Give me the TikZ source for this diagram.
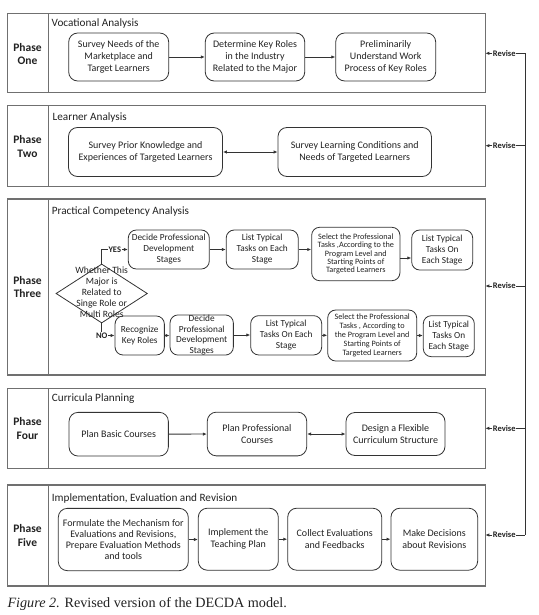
\documentclass[tikz,border=0pt]{standalone}
\usepackage{fontspec}
\setmainfont{Carlito}
\newfontfamily\capfont{Liberation Serif}
\usetikzlibrary{shapes.geometric,arrows.meta}
\definecolor{framegray}{HTML}{707070}
\definecolor{linecol}{HTML}{333333}
\definecolor{txtcol}{HTML}{222222}
\begin{document}
\begin{tikzpicture}[x=1pt,y=-1pt,
  phasebox/.style={draw=framegray, line width=1.1pt, rectangle, inner sep=0pt, outer sep=0pt},
  sepline/.style={draw=framegray, line width=1.1pt},
  stepbox/.style={draw=linecol, line width=0.8pt, rounded corners=9pt, align=center, inner sep=1pt, text=txtcol, font=\fontsize{10}{12}\selectfont},
  midbox/.style={stepbox, rounded corners=8pt, font=\fontsize{9.3}{11}\selectfont},
  tinybox/.style={stepbox, rounded corners=8pt, font=\fontsize{8.2}{8.3}\selectfont},
  titletext/.style={anchor=west, inner sep=0pt, text=txtcol, font=\fontsize{11.2}{13}\selectfont},
  phaselabel/.style={align=center, inner sep=0pt, text=txtcol, font=\bfseries\fontsize{11.5}{13.5}\selectfont},
  revlabel/.style={inner sep=0.6pt, text=txtcol, font=\bfseries\fontsize{8.5}{10}\selectfont},
  choice/.style={fill=white, inner sep=0.8pt, text=txtcol, font=\bfseries\fontsize{8.5}{10}\selectfont},
  arr/.style={draw=linecol, line width=0.8pt, -{Latex[length=4pt,width=3.4pt]}},
  darr/.style={draw=linecol, line width=0.8pt, {Latex[length=4pt,width=3.4pt]}-{Latex[length=4pt,width=3.4pt]}},
  plainline/.style={draw=linecol, line width=0.8pt}
]
\useasboundingbox (0,0) rectangle (538,615);

% ---------- phase frames ----------
\node[phasebox, minimum width=478pt, minimum height=79pt] (ph1) at (246.3,52.8) {};
\node[phasebox, minimum width=478pt, minimum height=80.7pt] (ph2) at (246.3,146.3) {};
\node[phasebox, minimum width=478pt, minimum height=176pt] (ph3) at (246.3,287) {};
\node[phasebox, minimum width=478pt, minimum height=80pt] (ph4) at (246.3,428.3) {};
\node[phasebox, minimum width=478pt, minimum height=101pt] (ph5) at (246.3,535.5) {};
\foreach \p in {ph1,ph2,ph3,ph4,ph5}
  \draw[sepline] ([xshift=41pt]\p.north west) -- ([xshift=41pt]\p.south west);

% ---------- phase labels and titles ----------
\node[phaselabel] (l1) at (27.5,53.8) {Phase\\One};
\node[phaselabel] (l2) at (27.5,146.7) {Phase\\Two};
\node[phaselabel] (l3) at (27.5,287) {Phase\\Three};
\node[phaselabel] (l4) at (27.5,428.3) {Phase\\Four};
\node[phaselabel] (l5) at (27.5,535.3) {Phase\\Five};

\node[titletext] (t1) at (51.5,23.3) {Vocational Analysis};
\node[titletext] (t2) at (52.5,117.3) {Learner Analysis};
\node[titletext] (t3) at (51.7,212) {Practical Competency Analysis};
\node[titletext] (t4) at (51.7,398.3) {Curricula Planning};
\node[titletext] (t5) at (51.7,498.3) {Implementation, Evaluation and Revision};

% ---------- phase one ----------
\node[stepbox, minimum width=100pt, minimum height=48pt] (a1) at (118.7,57) {Survey Needs of the\\Marketplace and\\Target Learners};
\node[stepbox, minimum width=99.5pt, minimum height=48pt] (a2) at (255,57) {Determine Key Roles\\in the Industry\\Related to the Major};
\node[stepbox, minimum width=100pt, minimum height=48pt] (a3) at (385.7,57) {Preliminarily\\Understand Work\\Process of Key Roles};
\draw[arr] (a1) -- (a2);
\draw[arr] (a2) -- (a3);

% ---------- phase two ----------
\node[stepbox, minimum width=154pt, minimum height=49pt] (b1) at (145.5,152) {Survey Prior Knowledge and\\Experiences of Targeted Learners};
\node[stepbox, minimum width=153.4pt, minimum height=49pt] (b2) at (354.7,152) {Survey Learning Conditions and\\Needs of Targeted Learners};
\draw[darr] (b1) -- (b2);

% ---------- phase three ----------
\node[diamond, draw=linecol, line width=0.8pt, minimum width=91.4pt, minimum height=59pt, inner sep=0pt] (dm) at (101.7,293.5) {};
\node[align=center, inner sep=0pt, text=txtcol, font=\fontsize{9.6}{11.1}\selectfont] (dmt) at (101.7,292.3) {Whether This\\Major is\\Related to\\Singe Role or\\Multi Roles};

\node[midbox, minimum width=81pt, minimum height=39pt] (c1) at (168.8,249.5) {Decide Professional\\Development\\Stages};
\node[midbox, minimum width=72pt, minimum height=39pt] (c2) at (262.2,249.5) {List Typical\\Tasks on Each\\Stage};
\node[tinybox, minimum width=88.3pt, minimum height=53.4pt] (c3) at (355.8,254) {Select the Professional\\Tasks ,According to the\\Program Level and\\Starting Points of\\Targeted Learners};
\node[midbox, minimum width=61pt, minimum height=40pt] (c4) at (442.2,250) {List Typical\\Tasks On\\Each Stage};

\node[midbox, minimum width=49.3pt, minimum height=39pt] (d1) at (139.7,335.5) {Recognize\\Key Roles};
\node[midbox, minimum width=63.3pt, minimum height=40pt, inner sep=0pt, font=\fontsize{9.3}{10.7}\selectfont] (d2) at (201.7,335) {Decide\\Professional\\Development\\Stages};
\node[midbox, minimum width=71pt, minimum height=39.3pt] (d3) at (286.2,335.3) {List Typical\\Tasks On Each\\Stage};
\node[tinybox, minimum width=89pt, minimum height=51pt, font=\fontsize{8.2}{9.1}\selectfont] (d4) at (372.2,335.5) {Select the Professional\\Tasks , According to\\the Program Level and\\Starting Points of\\Targeted Learners};
\node[midbox, minimum width=51pt, minimum height=41pt] (d5) at (448.8,336.2) {List Typical\\Tasks On\\Each Stage};

\draw[arr] (dm.north) |- (c1.west) node[choice, pos=0.75] {YES};
\draw[arr] (dm.south) |- (d1.west) node[choice, pos=0.5] {NO};

\draw[arr] (c1.east) -- (c1.east -| c2.west);
\draw[arr] (c2.east) -- (c2.east -| c3.west);
\draw[arr] ([yshift=-4pt]c3.east) -- ([yshift=-4pt]c3.east -| c4.west);

\draw[arr] (d1.east) -- (d1.east -| d2.west);
\draw[arr] (d2.east) -- (d2.east -| d3.west);
\draw[arr] (d3.east) -- (d3.east -| d4.west);
\draw[arr] (d4.east) -- (d4.east -| d5.west);

% ---------- phase four ----------
\node[stepbox, minimum width=99.3pt, minimum height=43.7pt] (e1) at (118.7,434.2) {Plan Basic Courses};
\node[stepbox, minimum width=99.4pt, minimum height=43.7pt] (e2) at (257,434) {Plan Professional\\Courses};
\node[stepbox, minimum width=99pt, minimum height=43pt] (e3) at (395.5,434) {Design a Flexible\\Curriculum Structure};
\draw[arr] (e1) -- (e2);
\draw[darr] (e2) -- (e3);

% ---------- phase five ----------
\node[stepbox, minimum width=130pt, minimum height=62.3pt, font=\fontsize{10}{11.1}\selectfont] (f1) at (123.3,539.5) {Formulate the Mechanism for\\Evaluations and Revisions,\\Prepare Evaluation Methods\\and tools};
\node[stepbox, minimum width=80pt, minimum height=62pt] (f2) at (238.3,539.2) {Implement the\\Teaching Plan};
\node[stepbox, minimum width=94pt, minimum height=62pt] (f3) at (334.7,539.2) {Collect Evaluations\\and Feedbacks};
\node[stepbox, minimum width=86.7pt, minimum height=62pt] (f4) at (434.3,539.2) {Make Decisions\\about Revisions};
\draw[arr] (f1.east) -- (f1.east -| f2.west);
\draw[arr] (f2.east) -- (f2.east -| f3.west);
\draw[arr] (f3.east) -- (f3.east -| f4.west);

% ---------- revise loop ----------
\node[revlabel] (r1) at (504.2,53.3) {Revise};
\node[revlabel] (r2) at (504.2,145.7) {Revise};
\node[revlabel] (r3) at (504.2,286) {Revise};
\node[revlabel] (r4) at (504.2,428.3) {Revise};
\node[revlabel] (r5) at (504.2,535) {Revise};
\coordinate (v1) at (525,53.3);
\coordinate (v2) at (525,145.7);
\coordinate (v3) at (525,286);
\coordinate (v4) at (525,428.3);
\coordinate (v5) at (525,535);
\draw[arr] (r1.west) -- (r1.west -| ph1.east);
\draw[arr] (r2.west) -- (r2.west -| ph2.east);
\draw[arr] (r3.west) -- (r3.west -| ph3.east);
\draw[arr] (r4.west) -- (r4.west -| ph4.east);
\draw[arr] (r5.west) -- (r5.west -| ph5.east);
\draw[plainline] (r1.east) -- (v1);
\draw[plainline] (r2.east) -- (v2);
\draw[plainline] (r3.east) -- (v3);
\draw[plainline] (r4.east) -- (v4);
\draw[plainline] (r5.east) -- (v5);
\draw[plainline] (v1) -- (v5);

% ---------- caption ----------
\node[anchor=base west, inner sep=0pt, text=txtcol, font=\capfont\fontsize{14.2}{16}\selectfont] (cap) at (7.3,607.7) {\textit{Figure 2.} Revised version of the DECDA model.};
\end{tikzpicture}
\end{document}
